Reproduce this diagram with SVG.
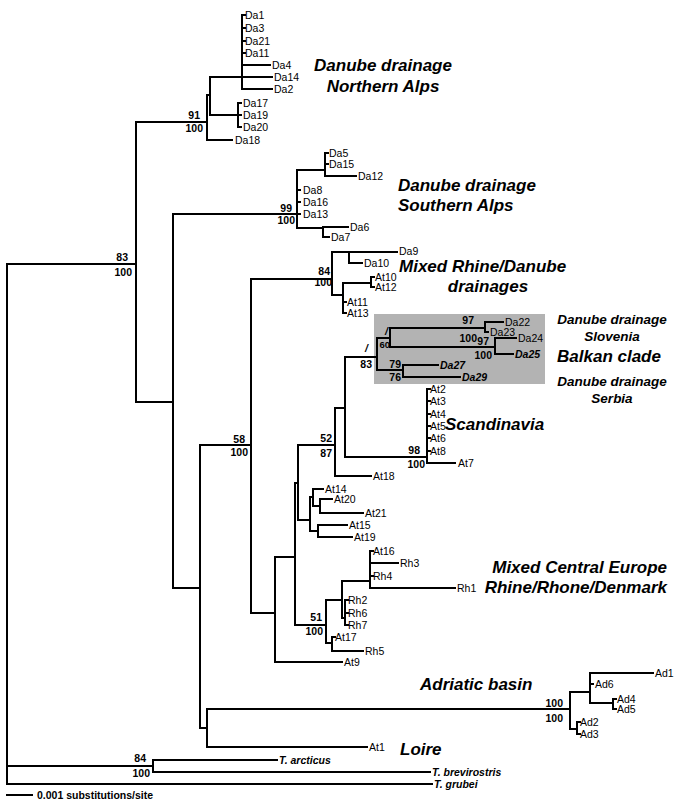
<svg xmlns="http://www.w3.org/2000/svg" width="685" height="802" viewBox="0 0 685 802">
<style>
.b{fill:none;stroke:#000;stroke-width:2;stroke-linecap:square}
text{font-family:"Liberation Sans",Arial,sans-serif;fill:#000}
.t{font-size:10.5px}
.s{font-size:10.5px;font-weight:bold;text-anchor:end}
.bi{font-weight:bold;font-style:italic}
.c{font-size:17px;font-weight:bold;font-style:italic}
.cs{font-size:13.5px;font-weight:bold;font-style:italic;text-anchor:middle}
</style>
<rect x="374" y="314" width="171" height="70" fill="#b3b3b3"/>
<g id="connectors" class="b">
<path d="M7 264V784M7 264H136M7 766H153M7 784H432M153 760V772M153 760H277M153 772H430"/>
<path d="M136 122V402M136 122H207M136 402H173"/>
<path d="M207 95V140M207 140H232M207 95H210M210 77V115M210 77H272M210 115H238"/>
<path d="M242 15V89M242 15H245M242 28H245M242 41H245M242 53H245M242 65H270M242 89H272"/>
<path d="M238 103V127M238 103H241M238 115H241M238 127H241"/>
<path d="M173 214V588M173 214H297M173 588H200"/>
<path d="M297 170V228M297 170H325M297 190H300M297 202H300M297 214H300M297 228H323"/>
<path d="M325 153V176M325 153H328M325 164H328M325 176H356M323 227V237M323 227H348M323 237H329"/>
<path d="M200 445V728M200 445H251M200 728H207M207 709V747M207 709H570M207 747H367"/>
<path d="M570 692V729M570 692H590M570 729H577M590 673V703M590 673H653M590 684H593M590 703H613M613 699V709M613 699H616M613 709H616M577 722V734M577 722H580M577 734H580"/>
<path d="M251 279V613M251 279H332M251 613H275"/>
<path d="M332 252V295M332 252H349M332 295H343M349 252V263M349 252H397M349 263H362M343 283V313M343 283H371M343 302H346M343 313H346M371 277V287M371 277H374M371 287H374"/>
<path d="M275 557V662M275 557H295M275 662H342M295 483V625M295 483H298M295 625H326M298 445V520M298 445H335M298 520H310"/>
<path d="M335 408V476M335 408H345M335 476H371M345 357V457M345 357H377M345 457H427"/>
<path d="M427 389V463M427 389H430M427 401H430M427 414H430M427 426H430M427 438H430M427 451H430M427 463H455"/>
<path d="M377 338V370M377 338H390M377 370H403M390 328V347M390 328H485M390 347H495M485 322V332M485 322H503M485 332H488M495 338V354M495 338H516M495 354H513M403 365V377M403 365H438M403 377H460"/>
<path d="M310 497V531M310 497H313M310 531H318M313 489V506M313 489H323M313 506H320M320 499V513M320 499H332M320 513H363M318 525V537M318 525H347M318 537H352"/>
<path d="M326 600V643M326 600H342M326 643H332M342 581V618M342 581H370M342 618H345M370 551V588M370 551H373M370 576H373M370 563H398M370 588H455M345 600V625M345 600H348M345 613H348M345 625H348M332 637V651M332 637H335M332 651H363"/>
<path d="M7 795H32"/>
</g>
<g id="tips" class="t">
<text x="245" y="19">Da1</text><text x="245" y="32">Da3</text><text x="245" y="45">Da21</text><text x="245" y="57">Da11</text>
<text x="272" y="69">Da4</text><text x="274" y="81">Da14</text><text x="274" y="93">Da2</text>
<text x="243" y="107">Da17</text><text x="243" y="119">Da19</text><text x="243" y="131">Da20</text><text x="235" y="144">Da18</text>
<text x="329" y="157">Da5</text><text x="329" y="168">Da15</text><text x="358" y="180">Da12</text>
<text x="303" y="194">Da8</text><text x="303" y="206">Da16</text><text x="303" y="218">Da13</text>
<text x="350" y="231">Da6</text><text x="331" y="241">Da7</text>
<text x="399" y="255">Da9</text><text x="364" y="267">Da10</text>
<text x="375" y="281">At10</text><text x="375" y="291">At12</text><text x="347" y="306">At11</text><text x="347" y="317">At13</text>
<text x="505" y="326">Da22</text><text x="490" y="336">Da23</text><text x="518" y="342">Da24</text>
<text class="bi" x="515" y="358">Da25</text><text class="bi" x="440" y="369">Da27</text><text class="bi" x="462" y="381">Da29</text>
<text x="430" y="393">At2</text><text x="430" y="405">At3</text><text x="430" y="418">At4</text><text x="430" y="430">At5</text><text x="430" y="442">At6</text><text x="430" y="455">At8</text><text x="458" y="467">At7</text>
<text x="373" y="480">At18</text>
<text x="325" y="493">At14</text><text x="334" y="503">At20</text><text x="365" y="517">At21</text><text x="349" y="529">At15</text><text x="354" y="541">At19</text>
<text x="373" y="555">At16</text><text x="400" y="567">Rh3</text><text x="373" y="580">Rh4</text><text x="457" y="592">Rh1</text>
<text x="348" y="604">Rh2</text><text x="348" y="617">Rh6</text><text x="348" y="629">Rh7</text><text x="335" y="641">At17</text><text x="365" y="655">Rh5</text><text x="344" y="666">At9</text>
<text x="655" y="677">Ad1</text><text x="595" y="688">Ad6</text><text x="617" y="703">Ad4</text><text x="617" y="713">Ad5</text><text x="580" y="726">Ad2</text><text x="580" y="738">Ad3</text>
<text x="369" y="751">At1</text>
<text class="bi" x="279" y="764">T. arcticus</text><text class="bi" x="432" y="776">T. brevirostris</text><text class="bi" x="434" y="788">T. grubei</text>
</g>
<g id="support">
<text class="s" x="200" y="119">91</text><text class="s" x="203" y="132">100</text>
<text class="s" x="128" y="261">83</text><text class="s" x="132" y="276">100</text>
<text class="s" x="292" y="212">99</text><text class="s" x="295" y="224">100</text>
<text class="s" x="330" y="275">84</text><text class="s" x="332" y="286">100</text>
<text class="s" x="245" y="443">58</text><text class="s" x="248" y="456">100</text>
<text class="s" x="332" y="442">52</text><text class="s" x="332" y="457">87</text>
<text class="s" x="420" y="454">98</text><text class="s" x="425" y="468">100</text>
<text class="s" x="368" y="352" font-style="italic">/</text><text class="s" x="372" y="368">83</text>
<text class="s" x="388" y="335" font-style="italic">/</text><text class="s" x="390" y="348" style="font-size:9.5px">60</text>
<text class="s" x="474" y="324">97</text><text class="s" x="477" y="342">100</text>
<text class="s" x="489" y="345">97</text><text class="s" x="492" y="359">100</text>
<text class="s" x="401" y="368">79</text><text class="s" x="401" y="381">76</text>
<text class="s" x="322" y="621">51</text><text class="s" x="323" y="635">100</text>
<text class="s" x="563" y="707">100</text><text class="s" x="563" y="722">100</text>
<text class="s" x="146" y="762">84</text><text class="s" x="150" y="777">100</text>
</g>
<g id="clades">
<g id="northern-alps"><text class="c" x="383" y="71" text-anchor="middle">Danube drainage</text><text class="c" x="383" y="92" text-anchor="middle">Northern Alps</text></g>
<g id="southern-alps"><text class="c" x="398" y="191">Danube drainage</text><text class="c" x="398" y="211">Southern Alps</text></g>
<g id="mixed-rd"><text class="c" x="399" y="272">Mixed Rhine/Danube</text><text class="c" x="488" y="292" text-anchor="middle">drainages</text></g>
<g id="slovenia"><text class="cs" x="612" y="324">Danube drainage</text><text class="cs" x="612" y="341">Slovenia</text></g>
<g id="balkan"><text class="c" x="609" y="362" text-anchor="middle">Balkan clade</text></g>
<g id="serbia"><text class="cs" x="612" y="386">Danube drainage</text><text class="cs" x="612" y="403">Serbia</text></g>
<g id="scandinavia"><text class="c" x="445" y="430">Scandinavia</text></g>
<g id="mixed-ce"><text class="c" x="667" y="573" text-anchor="end">Mixed Central Europe</text><text class="c" x="667" y="593" text-anchor="end">Rhine/Rhone/Denmark</text></g>
<g id="adriatic"><text class="c" x="420" y="690">Adriatic basin</text></g>
<g id="loire"><text class="c" x="400" y="755">Loire</text></g>
</g>
<g id="scale"><text x="37" y="799" style="font-size:10.5px;font-weight:bold">0.001 substitutions/site</text></g>
</svg>
